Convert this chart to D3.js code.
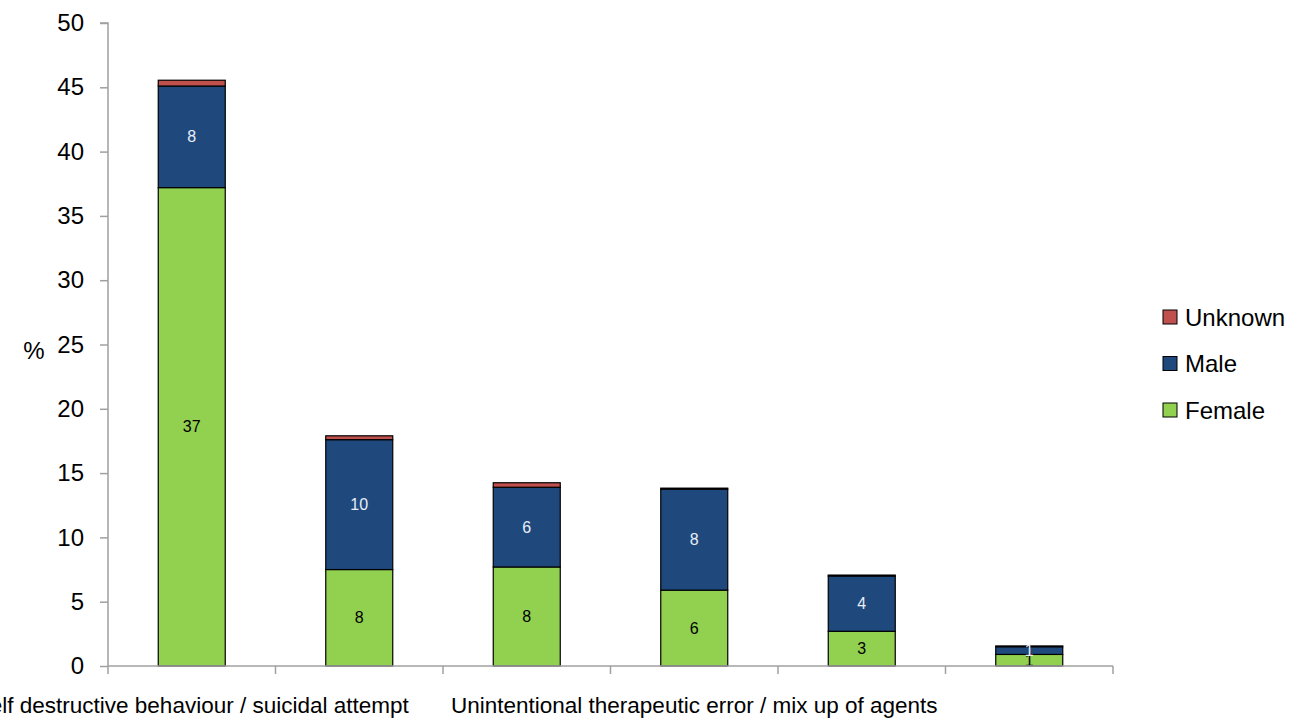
<!DOCTYPE html>
<html><head><meta charset="utf-8">
<script src="https://cdn.jsdelivr.net/npm/d3@7"></script>
<style>body{margin:0;background:#fff}svg{display:block}</style>
</head><body>
<svg id="c" width="1292" height="718"></svg>
<script>
const categories = ["Self destructive behaviour / suicidal attempt", "", "", "Unintentional therapeutic error / mix up of agents", "", ""];
const female = [37.2, 7.5, 7.7, 5.9, 2.7, 0.9];
const male = [7.9, 10.1, 6.2, 7.85, 4.3, 0.6];
const unknown = [0.45, 0.3, 0.35, 0.08, 0.07, 0.06];
const femaleLabels = ["37", "8", "8", "6", "3", "1"];
const maleLabels = ["8", "10", "6", "8", "4", "1"];
const yTicks = [0, 5, 10, 15, 20, 25, 30, 35, 40, 45, 50];
const seriesNames = ["Female", "Male", "Unknown"];
const colors = {Female: "#92d050", Male: "#1f497d", Unknown: "#c0504d"};

const FONT = "'Liberation Sans Narrow','Arial Narrow','Liberation Sans',Arial,sans-serif";
const svg = d3.select("#c");
const L = 108, R = 1113, T = 23, B = 666;

const x = d3.scaleBand().domain(d3.range(categories.length)).range([L, R]).paddingInner(0.6).paddingOuter(0.3);
const xOuter = d3.scaleBand().domain(d3.range(categories.length)).range([L, R]);
const y = d3.scaleLinear().domain([0, 50]).range([B, T]);

const rows = categories.map((c, i) => ({i, Female: female[i], Male: male[i], Unknown: unknown[i]}));
const stack = d3.stack().keys(seriesNames)(rows);

const g = svg.append("g");
stack.forEach(s => {
  g.selectAll(null).data(s).enter().append("rect")
    .attr("x", d => x(d.data.i))
    .attr("width", x.bandwidth())
    .attr("y", d => y(d[1]))
    .attr("height", d => y(d[0]) - y(d[1]))
    .attr("fill", colors[s.key])
    .attr("stroke", "#000")
    .attr("stroke-width", 1.2);
});

// value labels
const labG = svg.append("g").style("font-family", FONT).style("font-size", "16px");
rows.forEach((r, i) => {
  labG.append("text").attr("x", x(i) + x.bandwidth() / 2).attr("y", (y(0) + y(female[i])) / 2)
    .attr("text-anchor", "middle").attr("dy", "0.35em").attr("fill", "#000").text(femaleLabels[i]);
  labG.append("text").attr("x", x(i) + x.bandwidth() / 2).attr("y", (y(female[i]) + y(female[i] + male[i])) / 2)
    .attr("text-anchor", "middle").attr("dy", "0.35em").attr("fill", "#e8eef8").text(maleLabels[i]);
});

// y axis
const yAxis = d3.axisLeft(y).tickValues(yTicks).tickSize(8).tickPadding(16);
const ya = svg.append("g").attr("transform", `translate(${L},0)`).call(yAxis);
ya.select(".domain").attr("stroke", "#a0a0a0").attr("stroke-width", 1.5).attr("d", `M-8,${T}H0V${B}`);
ya.selectAll(".tick line").attr("stroke", "#a0a0a0").attr("stroke-width", 1.5);
ya.selectAll(".tick text").style("font-family", FONT).style("font-size", "24px").attr("fill", "#000");

// x axis
const xa = svg.append("g").attr("transform", `translate(0,${B})`);
xa.append("line").attr("x1", L).attr("x2", R).attr("stroke", "#a0a0a0").attr("stroke-width", 1.5);
const bounds = d3.range(categories.length + 1).map(i => i < categories.length ? xOuter(i) : R);
xa.selectAll(null).data(bounds).enter().append("line")
  .attr("x1", d => d).attr("x2", d => d).attr("y1", 0).attr("y2", 8)
  .attr("stroke", "#a0a0a0").attr("stroke-width", 1.5);
xa.selectAll(null).data(categories).enter().append("text")
  .attr("x", (d, i) => xOuter(i) + xOuter.bandwidth() / 2)
  .attr("y", 47).attr("text-anchor", "middle")
  .style("font-family", FONT).style("font-size", "22.5px").attr("fill", "#000").text(d => d);

// y label
svg.append("text").attr("x", 34).attr("y", 359).attr("text-anchor", "middle")
  .style("font-family", FONT).style("font-size", "24px").text("%");

// legend
const legendOrder = ["Unknown", "Male", "Female"];
const lg = svg.append("g");
legendOrder.forEach((k, i) => {
  const cy = 317 + i * 46.5;
  lg.append("rect").attr("x", 1163).attr("y", cy - 7).attr("width", 14).attr("height", 14)
    .attr("fill", colors[k]).attr("stroke", "#000").attr("stroke-width", 1);
  lg.append("text").attr("x", 1185).attr("y", cy).attr("dy", "0.36em")
    .style("font-family", FONT).style("font-size", "24px").text(k);
});
</script>
</body></html>
